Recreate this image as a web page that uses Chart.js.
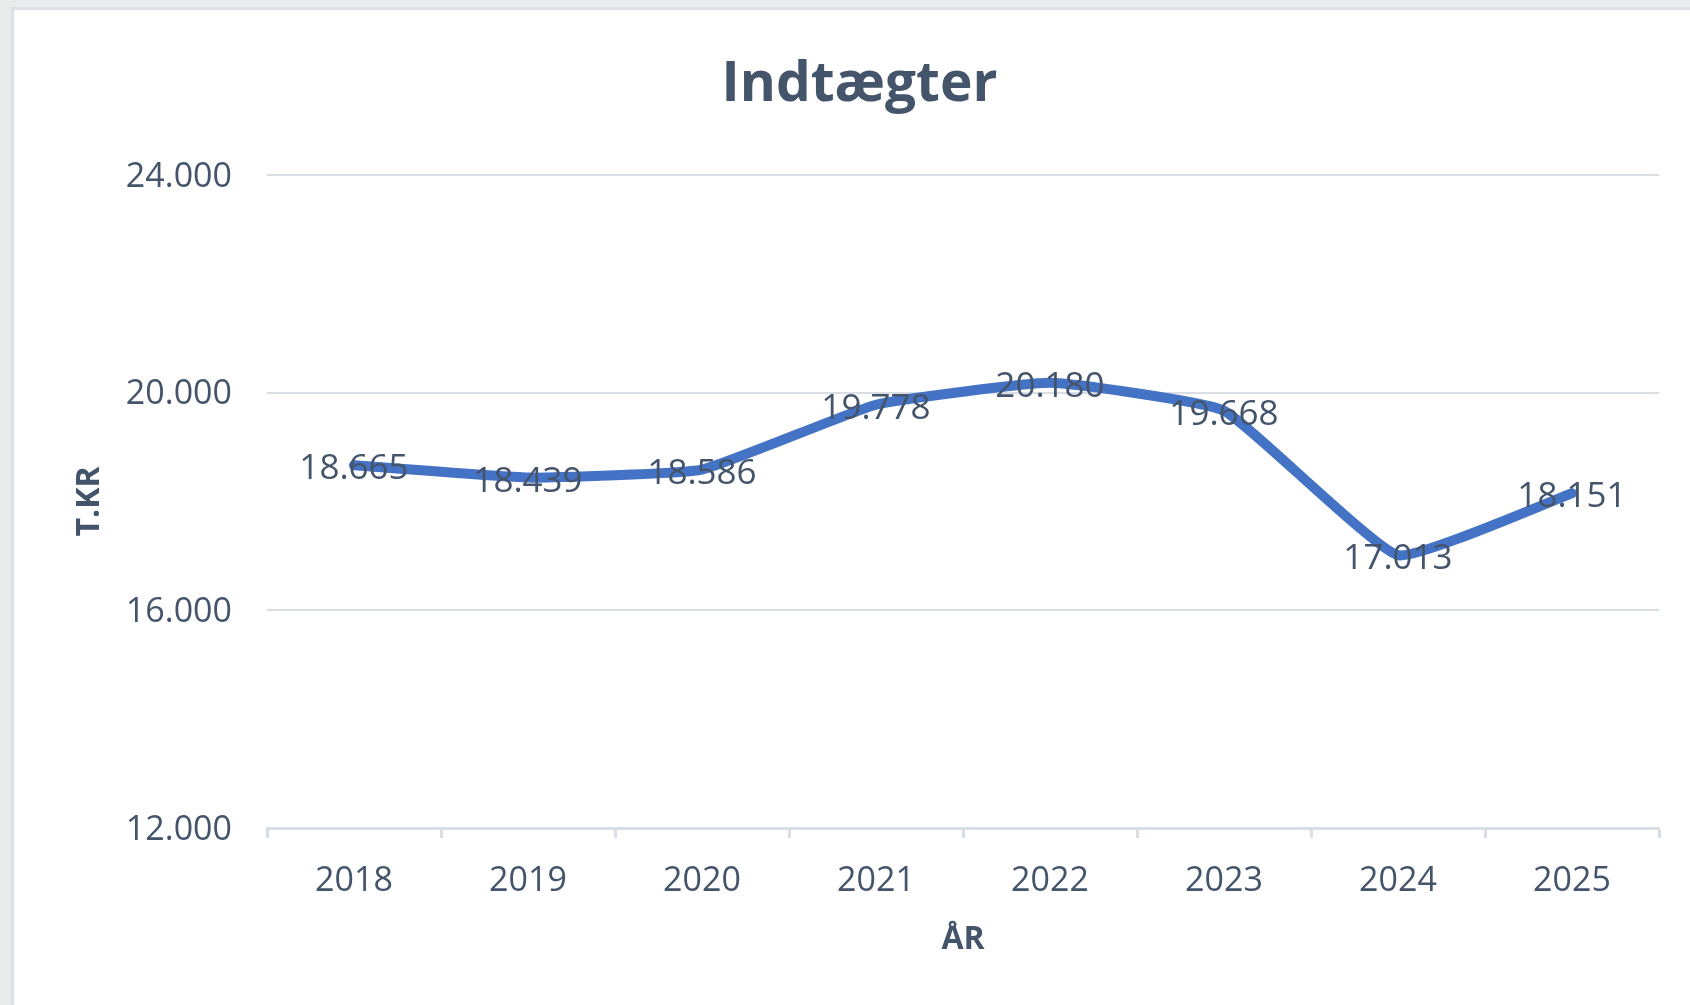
<!DOCTYPE html>
<html>
<head>
<meta charset="utf-8">
<script src="https://cdn.jsdelivr.net/npm/chart.js@4.4.1/dist/chart.umd.min.js"></script>
<style>
  html, body { margin: 0; padding: 0; width: 1690px; height: 1005px; overflow: hidden; background: #e8eceb; }
  #panel { position: absolute; left: 11px; top: 7px; width: 1679px; height: 998px; box-sizing: border-box;
           background: #ffffff; border-left: 3px solid #dcdfe5; border-top: 3px solid #dcdfe5; }
  #c { position: absolute; left: 0; top: 0; }
</style>
</head>
<body>
<div id="panel"></div>
<canvas id="c" width="1690" height="1005"></canvas>
<script>
const chartTitle = "Indtægter";
const categories = ["2018", "2019", "2020", "2021", "2022", "2023", "2024", "2025"];
const revenue = [18665, 18439, 18586, 19778, 20180, 19668, 17013, 18151];
const yTickValues = [12000, 16000, 20000, 24000];
const yTickLabels = ["12.000", "16.000", "20.000", "24.000"];
const yAxisTitle = "T.KR";
const xAxisTitle = "ÅR";

const textColor = "#44546a";
const gridColor = "#d9dee5";
const fontFamily = "'Open Sans', 'Noto Sans', sans-serif";

function fmt(v) {
  return String(v).replace(/\B(?=(\d{3})+(?!\d))/g, ".");
}

const dataLabels = {
  id: "dataLabels",
  afterDatasetsDraw(chart) {
    const ctx = chart.ctx;
    const meta = chart.getDatasetMeta(0);
    ctx.save();
    ctx.font = "35px " + fontFamily;
    ctx.fillStyle = textColor;
    ctx.textAlign = "center";
    ctx.textBaseline = "middle";
    meta.data.forEach((pt, i) => {
      ctx.fillText(fmt(revenue[i]), pt.x, pt.y + 4);
    });
    ctx.restore();
  }
};

new Chart(document.getElementById("c"), {
  type: "line",
  data: {
    labels: categories,
    datasets: [{
      data: revenue,
      borderColor: "#4472c4",
      borderWidth: 10,
      borderCapStyle: "round",
      borderJoinStyle: "round",
      tension: 0.12,
      pointRadius: 0,
      pointHoverRadius: 0,
      fill: false
    }]
  },
  options: {
    responsive: false,
    devicePixelRatio: 1,
    animation: false,
    layout: { padding: { left: 60, right: 31, top: 0, bottom: 0 } },
    plugins: {
      legend: { display: false },
      tooltip: { enabled: false },
      title: {
        display: true,
        text: chartTitle,
        color: textColor,
        font: { family: fontFamily, size: 55, weight: "bold", lineHeight: 1.2 },
        padding: { top: 52, bottom: 57 }
      }
    },
    scales: {
      x: {
        offset: true,
        grid: {
          offset: true,
          drawOnChartArea: false,
          drawTicks: true,
          tickLength: 10,
          tickWidth: 3,
          tickColor: gridColor
        },
        border: { display: true, color: gridColor, width: 3 },
        ticks: {
          color: textColor,
          padding: 23,
          maxRotation: 0,
          font: { family: fontFamily, size: 34, lineHeight: 1.2 }
        },
        title: {
          display: true,
          text: xAxisTitle,
          color: textColor,
          font: { family: fontFamily, size: 32, weight: "bold", lineHeight: 1.2 },
          padding: { top: 0, bottom: 46 }
        },
        afterFit(scale) { scale.height = 177; }
      },
      y: {
        min: 12000,
        max: 24000,
        afterBuildTicks(scale) { scale.ticks = yTickValues.map(v => ({ value: v })); },
        grid: { color: gridColor, lineWidth: 2, drawTicks: false },
        border: { display: false },
        ticks: {
          color: textColor,
          padding: 35,
          labelOffset: 2,
          font: { family: fontFamily, size: 34, lineHeight: 1.2 },
          callback(value) {
            const idx = yTickValues.indexOf(value);
            return idx >= 0 ? yTickLabels[idx] : "";
          }
        },
        title: {
          display: true,
          text: yAxisTitle,
          color: textColor,
          font: { family: fontFamily, size: 32, weight: "bold", lineHeight: 1.2 },
          padding: { top: 11, bottom: 0 }
        },
        afterFit(scale) { scale.width = 207; }
      }
    }
  },
  plugins: [dataLabels]
});
</script>
</body>
</html>
